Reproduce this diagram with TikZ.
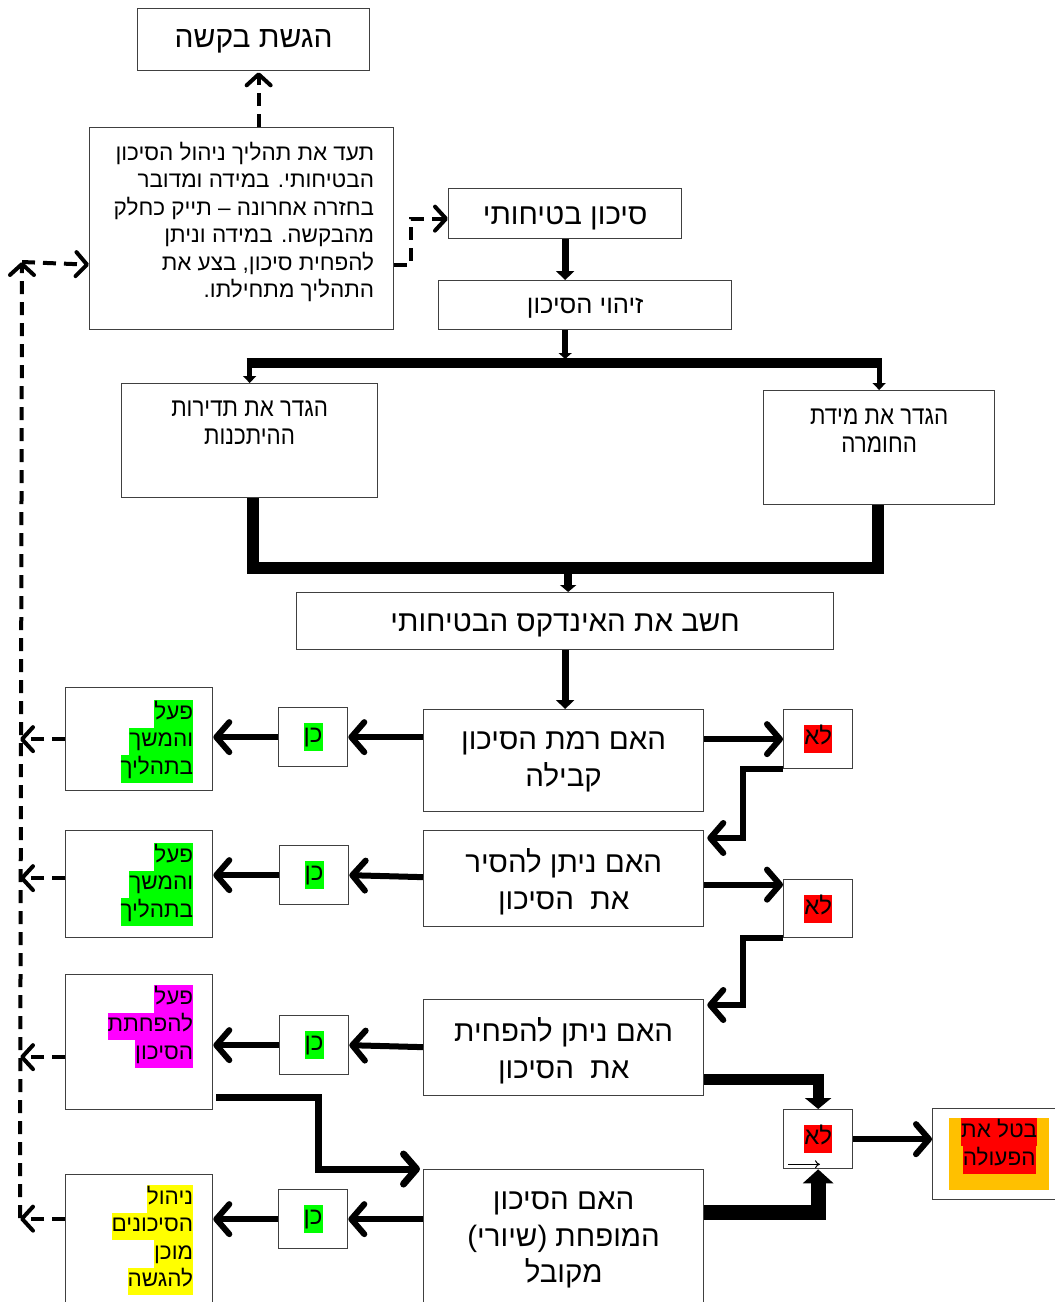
\documentclass[tikz,border=0pt]{standalone}
\usepackage{fontspec}
\setmainfont[Script=Hebrew]{Liberation Sans}
\newfontfamily\narrowfont[Script=Hebrew,FakeStretch=0.86]{Liberation Sans}
\usetikzlibrary{arrows.meta,calc}
\TeXXeTstate=1
\definecolor{hlgreen}{HTML}{00FF00}
\definecolor{hlred}{HTML}{FF0000}
\definecolor{hlmag}{HTML}{FF00FF}
\definecolor{hlyel}{HTML}{FFFF00}
\definecolor{hlorange}{HTML}{FFC000}
\definecolor{edgecol}{HTML}{404040}
\setlength\fboxsep{0pt}
\newcommand\R[1]{\beginR #1\endR}
\newcommand\hlt[2]{\colorbox{#1}{\strut\beginR #2\endR}}
\begin{document}
\begin{tikzpicture}[x=1pt,y=-1pt,
  box/.style={draw=edgecol, line width=1.3pt, fill=white, inner sep=0pt, anchor=north west},
  txt/.style={inner sep=0pt, align=center},
  big/.style={font=\fontsize{29.5}{36.5}\selectfont},
  small/.style={font=\fontsize{22.5}{27.5}\selectfont},
  arr/.style={line width=6pt, -{Straight Barb[length=13pt,width=30pt,round]}},
  dasharr/.style={line width=4pt, dash pattern=on 13pt off 8pt, -{Straight Barb[length=11pt,width=24pt,round]}},
  filarr/.style={line width=7pt, -{Triangle[length=9pt,width=18pt]}},
]
\clip (0,0) rectangle (1055,1302);
\fill[white] (0,0) rectangle (1055,1302);

% ---------- boxes ----------
\node[box, minimum width=232pt, minimum height=62pt] (b1) at (137,8) {};
\node[box, minimum width=304pt, minimum height=202pt] (b2) at (89,127) {};
\node[box, minimum width=233pt, minimum height=50pt] (b3) at (448,188) {};
\node[box, minimum width=293pt, minimum height=49pt] (b4) at (438,280) {};
\node[box, minimum width=256pt, minimum height=114pt] (b5) at (121,383) {};
\node[box, minimum width=231pt, minimum height=114pt] (b6) at (763,390) {};
\node[box, minimum width=537pt, minimum height=57pt] (b7) at (296,592) {};
\node[box, minimum width=280pt, minimum height=102pt] (b8) at (423,709) {};
\node[box, minimum width=280pt, minimum height=96pt] (b9) at (423,830) {};
\node[box, minimum width=280pt, minimum height=96pt] (b10) at (423,999) {};
\node[box, minimum width=280pt, minimum height=150pt] (b11) at (423,1169) {};

\node[box, minimum width=69pt, minimum height=59pt] (n1) at (783,709) {};
\node[box, minimum width=69pt, minimum height=58pt] (n2) at (783,879) {};
\node[box, minimum width=69pt, minimum height=59pt] (n3) at (783,1109) {};

\node[box, minimum width=69pt, minimum height=59pt] (y1) at (278,707) {};
\node[box, minimum width=69pt, minimum height=59pt] (y2) at (279,845) {};
\node[box, minimum width=69pt, minimum height=59pt] (y3) at (279,1015) {};
\node[box, minimum width=69pt, minimum height=59pt] (y4) at (278,1189) {};

\node[box, minimum width=147pt, minimum height=103pt] (l1) at (65,687) {};
\node[box, minimum width=147pt, minimum height=107pt] (l2) at (65,830) {};
\node[box, minimum width=147pt, minimum height=135pt] (l3) at (65,974) {};
\node[box, minimum width=147pt, minimum height=140pt] (l4) at (65,1174) {};

\node[box, minimum width=140pt, minimum height=91pt] (cx) at (932,1108) {};
\node[anchor=north west, inner sep=0pt, fill=hlorange, minimum width=100pt, minimum height=72pt] (cxf) at (949,1118) {};

% ---------- texts ----------
\node[txt, font=\fontsize{30}{36}\selectfont] (b1t) at ($(b1.center)+(0,2)$) {\R{הגשת בקשה}};
\node[txt, small, anchor=north east, align=right] (b2t) at ($(b2.north east)+(-20,15)$)
  {\R{תעד את תהליך ניהול הסיכון}\\
   \R{הבטיחותי. במידה ומדובר}\\
   \R{בחזרה אחרונה – תייק כחלק}\\
   \R{מהבקשה. במידה וניתן}\\
   \R{להפחית סיכון, בצע את}\\
   \R{התהליך מתחילתו.}};
\node[txt, font=\fontsize{29.5}{36}\selectfont] (b3t) at ($(b3.center)+(0,5)$) {\R{סיכון בטיחותי}};
\node[txt, font=\fontsize{25.5}{30}\selectfont] (b4t) at ($(b4.center)+(0,3)$) {\R{זיהוי הסיכון}};
\node[txt, font=\narrowfont\fontsize{26}{28}\selectfont, anchor=north] (b5t) at ($(b5.north)+(0,18)$)
  {\R{הגדר את תדירות}\\\R{ההיתכנות}};
\node[txt, font=\narrowfont\fontsize{26}{28}\selectfont, anchor=north] (b6t) at ($(b6.north)+(0,18)$)
  {\R{הגדר את מידת}\\\R{החומרה}};
\node[txt, font=\fontsize{29.5}{36}\selectfont] (b7t) at ($(b7.center)+(0,4)$) {\R{חשב את האינדקס הבטיחותי}};
\node[txt, big] (b8t) at ($(b8.center)+(0,1)$) {\R{האם רמת הסיכון}\\\R{קבילה}};
\node[txt, big] (b9t) at ($(b9.center)+(0,3)$) {\R{האם ניתן להסיר}\\\R{את\ \ הסיכון}};
\node[txt, big] (b10t) at ($(b10.center)+(0,3)$) {\R{האם ניתן להפחית}\\\R{את\ \ הסיכון}};
\node[txt, big] (b11t) at ($(b11.north)+(0,71)$) {\R{האם הסיכון}\\\R{המופחת (שיורי)}\\\R{מקובל}};

\foreach \n in {n1,n2,n3}
  \node[txt, font=\fontsize{24}{28}\selectfont] (\n t) at (\n.center) {\hlt{hlred}{לא}};
\foreach \n in {y1,y2,y3,y4}
  \node[txt, font=\fontsize{24}{28}\selectfont] (\n t) at (\n.center) {\hlt{hlgreen}{כן}};

\node[txt, small, anchor=north east, align=right] (l1t) at ($(l1.north east)+(-20,13)$)
  {\hlt{hlgreen}{פעל}\\\hlt{hlgreen}{והמשך}\\\hlt{hlgreen}{בתהליך}};
\node[txt, small, anchor=north east, align=right] (l2t) at ($(l2.north east)+(-20,13)$)
  {\hlt{hlgreen}{פעל}\\\hlt{hlgreen}{והמשך}\\\hlt{hlgreen}{בתהליך}};
\node[txt, small, anchor=north east, align=right] (l3t) at ($(l3.north east)+(-20,11)$)
  {\hlt{hlmag}{פעל}\\\hlt{hlmag}{להפחתת}\\\hlt{hlmag}{הסיכון}};
\node[txt, small, anchor=north east, align=right] (l4t) at ($(l4.north east)+(-20,11)$)
  {\hlt{hlyel}{ניהול}\\\hlt{hlyel}{הסיכונים}\\\hlt{hlyel}{מוכן}\\\hlt{hlyel}{להגשה}};
\node[txt, font=\fontsize{22.5}{28}\selectfont, anchor=north] (cxt) at (cxf.north)
  {\colorbox{hlred}{\strut\beginR בטל את\endR}\\\colorbox{hlred}{\strut\beginR הפעולה\endR}};

% ---------- connectors ----------
\coordinate (up) at ($(b1.south)+(5,1)$);
\draw[dasharr] (b2.north -| up) -- (up);
\draw[dasharr] ($(b2.east)+(0,36)$) -- ++(17,0) |- ($(b3.west)+(0,5)$);

\draw[filarr] (b3.south) -- (b3.south |- b4.north);

\coordinate (fl) at (b5.north |- 0,363);
\coordinate (fr) at (b6.north |- 0,363);
\coordinate (fm) at (b3.south |- b4.south);
\draw[line width=6pt, -{Triangle[length=6pt,width=13pt]}] (fm) -- ($(fm |- fl)+(0,-4)$);
\draw[line width=10pt] ($(fl)+(-3,0)$) -- ($(fr)+(3,0)$);
\draw[line width=5pt, -{Triangle[length=7pt,width=13pt]}] (fl) -- (b5.north);
\draw[line width=5pt, -{Triangle[length=7pt,width=13pt]}] (fr) -- (b6.north);

\coordinate (ml) at ($(b5.south)+(3,0)$);
\coordinate (mr) at ($(b6.south)+(-1,0)$);
\draw[line width=12pt, line join=miter] (ml) -- (ml |- 0,568) -- (mr |- 0,568) -- (mr);
\draw[line width=8pt, -{Triangle[length=7pt,width=16pt]}] ($(b7.north)+(3,-24)$) -- ($(b7.north)+(3,0)$);

\draw[filarr] (b7.south) -- (b7.south |- b8.north);

% yes / no
\draw[arr] (n1.west -| b8.east) -- (n1.west);
\draw[arr] ($(b9.east)+(0,6)$) -- ($(n2.west)+(0,-24)$);
\draw[arr] (n1.south west) -- ++(-40,0) |- ($(b9.north east)+(3,8)$);
\draw[arr] (n2.south west) -- ++(-40,0) |- ($(b10.north east)+(3,6)$);

\draw[line width=11pt, -{Triangle[length=11pt,width=26pt]}] ($(b10.south east)+(0,-17)$) -| (n3.north);
\draw[line width=15pt, -{Triangle[length=14pt,width=30pt]}] ($(b11.north east)+(0,43)$) -| (n3.south);
\draw[arr] (n3.east) -- (n3.east -| cx.west);
\draw[line width=1pt, -{To[length=5pt,width=8pt]}] ($(n3.south west)+(5,-5)$) -- ++(32,0);

\draw[arr] (y1.east -| b8.west) -- (y1.east);
\draw[arr] (y1.west) -- (y1.west -| l1.east);
\draw[arr] ($(y2.east -| b9.west)+(0,2)$) -- (y2.east);
\draw[arr] (y2.west) -- (y2.west -| l2.east);
\draw[arr] ($(y3.east -| b10.west)+(0,2)$) -- (y3.east);
\draw[arr] (y3.west) -- (y3.west -| l3.east);
\draw[arr] (y4.east -| b11.west) -- (y4.east);
\draw[arr] (y4.west) -- (y4.west -| l4.east);

\draw[line width=7pt, -{Straight Barb[length=13pt,width=30pt,round]}]
  ($(l3.south east)+(3,-13)$) -| ($(b11.north west)+(-105,0)$) -- ($(b11.north west)+(-3,0)$);

% dashed return loop
\coordinate (lb) at (20,1218);
\coordinate (lt) at (22,262);
\draw[dasharr] (lb) -- (lt);
\draw[dasharr] (lt) -- ($(b2.west)+(0,36)$);
\draw[dasharr] (l1.west) -- (l1.west -| lb);
\draw[dasharr] ($(l2.west)+(0,-6)$) -- ($(l2.west -| lb)+(0,-6)$);
\draw[dasharr] ($(l3.west)+(0,15)$) -- ($(l3.west -| lb)+(0,15)$);
\draw[dasharr] ($(l4.west)+(0,-26)$) -- ($(l4.west -| lb)+(0,-26)$);
\end{tikzpicture}
\end{document}
